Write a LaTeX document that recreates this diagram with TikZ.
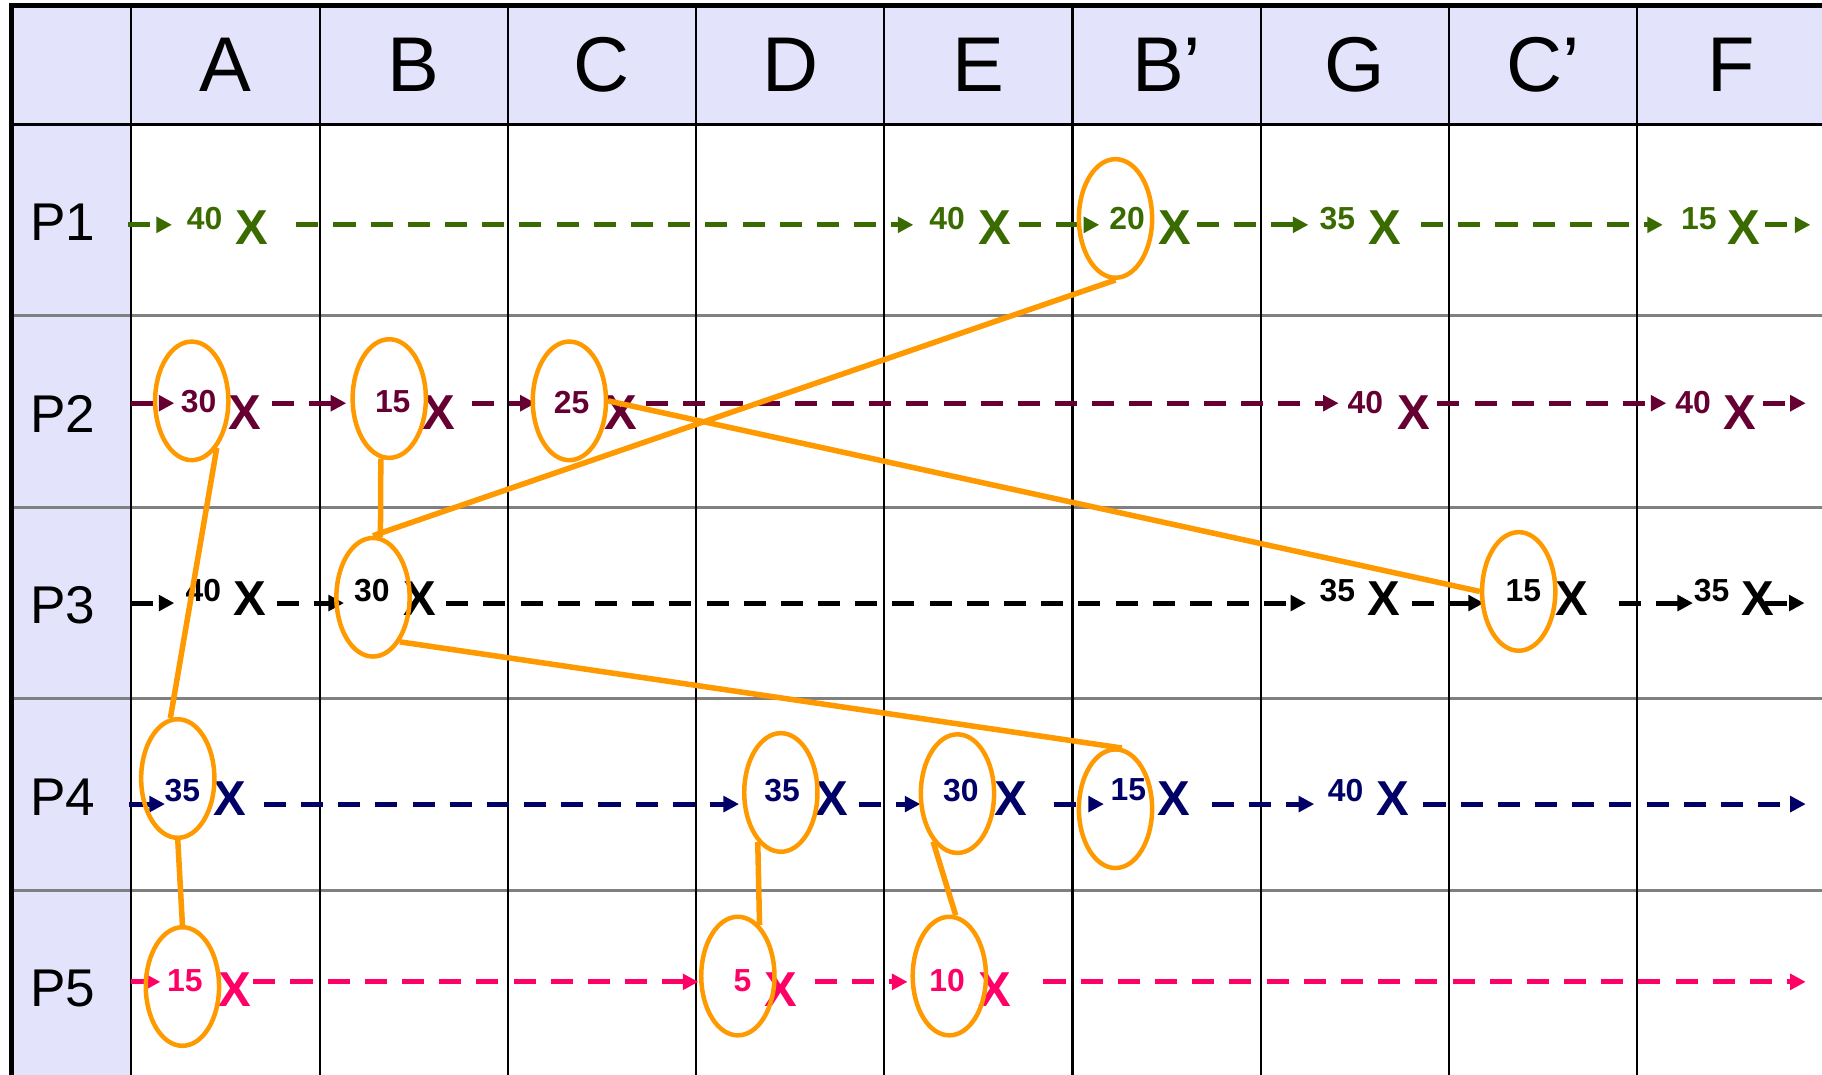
\documentclass[tikz,border=0pt]{standalone}
\usepackage{fontspec}
\setmainfont{Liberation Sans}
\usepackage{tikz}
\usetikzlibrary{arrows.meta, shapes.geometric}
\definecolor{headfill}{HTML}{E3E3FB}
\definecolor{procgreen}{HTML}{3A6B00}
\definecolor{procmaroon}{HTML}{660033}
\definecolor{procnavy}{HTML}{000066}
\definecolor{procpink}{HTML}{FF0066}
\definecolor{ringorange}{HTML}{FF9900}
\newcommand{\fsHead}{\fontsize{19}{22}\selectfont}
\newcommand{\fsRow}{\fontsize{13}{15}\selectfont}
\newcommand{\fsNum}{\fontsize{7.8}{9}\selectfont\bfseries}
\newcommand{\fsMark}{\fontsize{12}{14}\selectfont\bfseries}

\begin{document}
\begin{tikzpicture}[x=0.01cm, y=-0.01cm,
    ring/.style={draw=ringorange, line width=1.1pt, ellipse, inner sep=0pt,
      minimum width=0.63cm, minimum height=1.02cm},
    link/.style={draw=ringorange, line width=1.35pt},
    seg/.style={line width=1.25pt, dash pattern=on 5.4pt off 3.7pt,
      -{Triangle[length=3.8pt, width=3.8pt]}}]
  \def\GridL{10}\def\GridT{5}\def\GridR{1568}\def\GridB{925}
  \def\HeadB{107}\def\ColW{162}\def\RowH{164.8}\def\FirstC{113}
  \useasboundingbox (0,0) rectangle (\GridR,\GridB);
  % table
  \fill[headfill] (\GridL,\GridT) rectangle (\GridR,\HeadB);
  \fill[headfill] (\GridL,\HeadB) rectangle (\FirstC,\GridB);
  \foreach \k in {1,...,4}
    \draw[gray, line width=0.7pt] (\GridL,\HeadB+\k*\RowH) -- (\GridR,\HeadB+\k*\RowH);
  \foreach \k in {0,...,8}
    \draw[line width=0.5pt] (\FirstC+\k*\ColW,\GridT) -- (\FirstC+\k*\ColW,\GridB);
  \draw[line width=0.8pt] (\GridL,\HeadB) -- (\GridR,\HeadB);
  \draw[line width=1.2pt] (\GridR,\GridT) -- (\GridL,\GridT) -- (\GridL,\GridB);
  \foreach \t [count=\k from 0] in {A,B,C,D,E,B’,G,C’,F}
    \node[font=\fsHead] (h\k) at (\FirstC+\ColW/2+\k*\ColW,56) {\t};
  \foreach \k in {1,...,5}
    \node[font=\fsRow] (p\k) at (54,\HeadB+\k*\RowH-\RowH/2+2) {P\k};
  % one process line: row, line y, number y, X y, colour, events, last dash
  \newcommand{\timeline}[8]{%
    \foreach \sx/\tx/\nv/\nx/\xx [count=\i] in {#6} {
      \coordinate (d#1-\i) at (\sx,#2);
      \coordinate (t#1-\i) at (\tx,#2);
      \draw[seg, #5] (d#1-\i) -- (t#1-\i);
      \node[font=\fsNum, text=#5] (n#1-\i) at (\nx,#3) {\nv};
      \node[font=\fsMark, text=#5] (x#1-\i) at (\xx,#4) {X};
    }
    \coordinate (d#1-end) at (#7,#2);
    \coordinate (t#1-end) at (#8,#2);
    \draw[seg, #5] (d#1-end) -- (t#1-end);
  }
  \timeline{1}{193.5}{188}{196}{procgreen}
    {110/148/40/176/217, 255/786/40/815/856, 877/946/20/970/1011,
     1030/1126/35/1151/1192, 1223/1431/15/1462/1501}{1519}{1558}
  \timeline{2}{347}{346}{355}{procmaroon}
    {113/150/30/171/211, 234/298/15/338/378, 406/461/25/492/534,
     556/1152/40/1175/1217, 1237/1434/40/1457/1497}{1517}{1554}
  \timeline{3}{519}{508}{515}{black}
    {113/150/40/175/215, 238/296/30/320/361, 384/1124/35/1151/1191,
     1215/1277/15/1311/1353, 1393/1457/35/1473/1513}{1519}{1553}
  \timeline{4}{692}{680}{687}{procnavy}
    {111/142/35/157/198, 227/636/35/673/716, 739/792/30/827/870,
     907/950/15/971/1010, 1043/1131/40/1158/1199}{1225}{1554}
  \timeline{5}{845}{844}{852}{procpink}
    {113/138/15/159/202, 218/601/5/639/672, 701/781/10/815/856}{898}{1554}
  % rings
  \node[ring] (p1Bp) at (960,188) {};
  \node[ring] (p2A) at (165,345) {};
  \node[ring] (p2B) at (335,343) {};
  \node[ring] (p2C) at (490,345) {};
  \node[ring] (p3B) at (321,514) {};
  \node[ring] (p3Cp) at (1307,509) {};
  \node[ring] (p4A) at (153,670) {};
  \node[ring] (p4D) at (672,682) {};
  \node[ring] (p4E) at (824,683) {};
  \node[ring] (p4Bp) at (960,696) {};
  \node[ring] (p5A) at (157,849) {};
  \node[ring] (p5D) at (635,840) {};
  \node[ring] (p5E) at (817,840) {};
  % links
  \draw[link] (p1Bp.south) -- (p3B.north);
  \draw[link] (p2C.east) -- (p3Cp.west);
  \draw[link] (p2B.-98) -- (p3B.83);
  \draw[link] (p2A.-62) -- (p4A.97);
  \draw[link] (p3B.-59) -- (p4Bp.84);
  \draw[link] (p4A.south) -- (p5A.north);
  \draw[link] (p4D.-115) -- (p5D.67);
  \draw[link] (p4E.-117) -- (p5E.84);
\end{tikzpicture}
\end{document}
